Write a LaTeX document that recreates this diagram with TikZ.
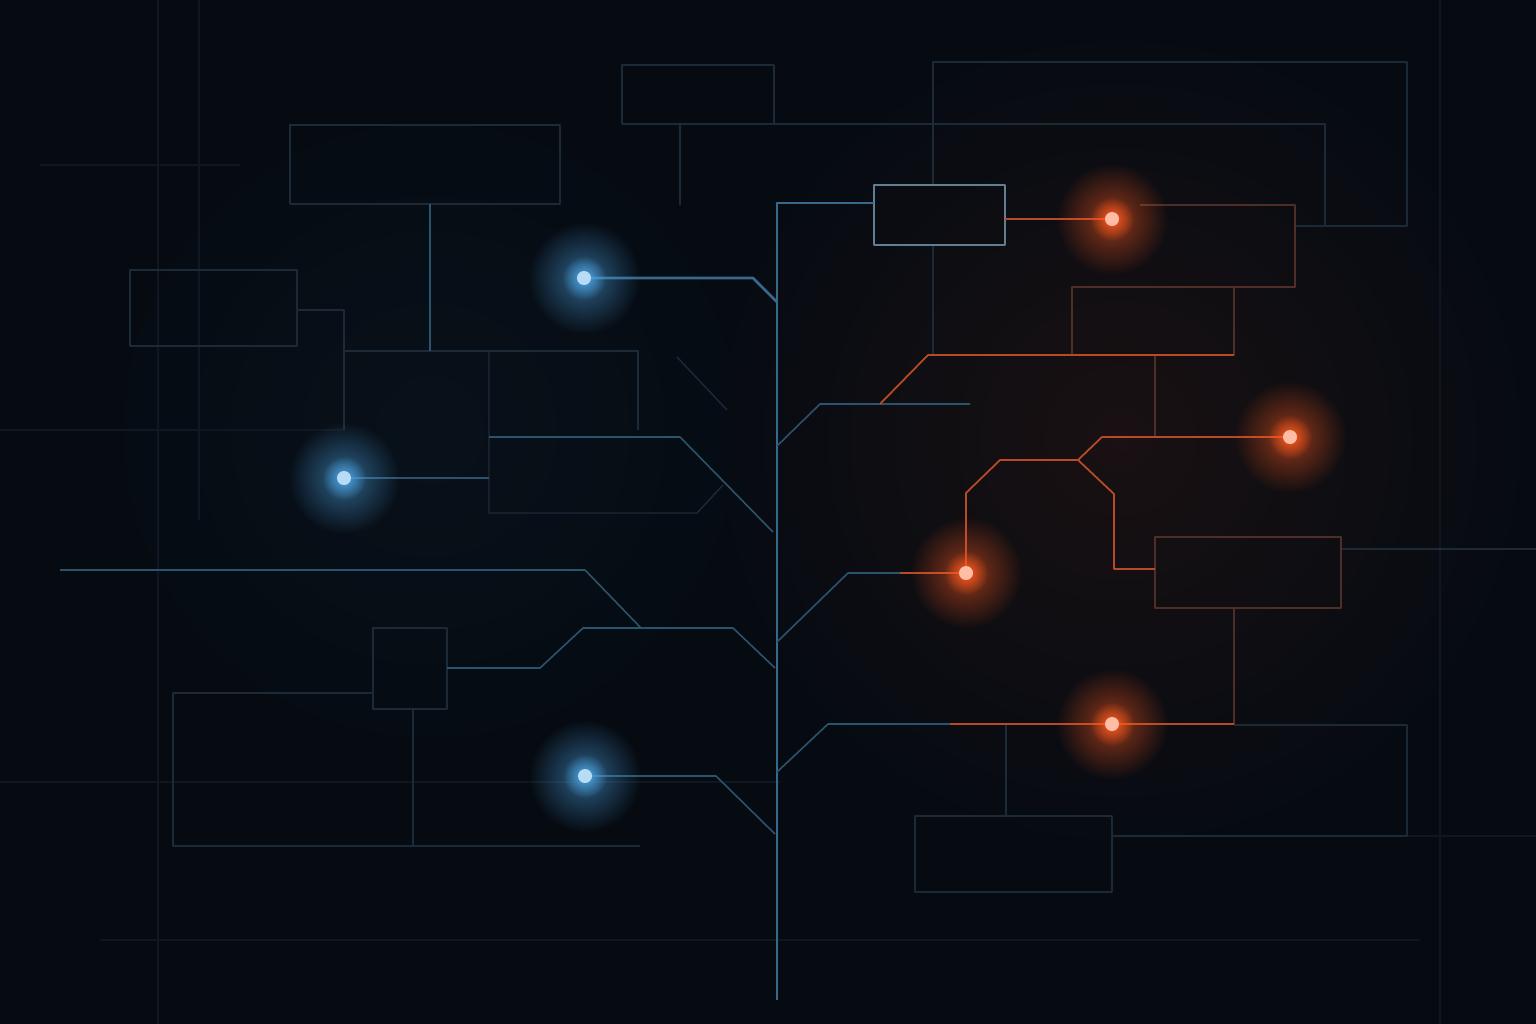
\documentclass[tikz,border=0pt]{standalone}
\usepackage{xcolor}
\definecolor{bgNavy}{HTML}{060B12}
\definecolor{colorBus}{HTML}{38688A}
\definecolor{colorWire}{HTML}{2C536E}
\definecolor{colorPanel}{HTML}{1C2A38}
\definecolor{colorGrid}{HTML}{0E1722}
\definecolor{colorHot}{HTML}{B84A28}
\definecolor{colorDim}{HTML}{4E2E26}
\definecolor{sparkBlue}{HTML}{4FA8E8}
\definecolor{sparkRed}{HTML}{FF5A1F}
\usepackage{tikz}
\usetikzlibrary{fadings}
\tikzfading[name=glowfade, inner color=transparent!0, outer color=transparent!100]
\tikzset{
  bus/.style={draw=colorBus, line width=0.8pt},
  bluewire/.style={draw=colorWire, line width=0.45pt},
  hotwire/.style={draw=colorHot, line width=0.5pt},
  dimwire/.style={draw=colorDim, line width=0.4pt},
  panel/.style={draw=colorPanel, line width=0.4pt},
  faint/.style={draw=colorGrid, line width=0.35pt},
  pics/spark/.style={code={
    \fill[#1, path fading=glowfade, opacity=0.55] (0,0) circle (56);
    \fill[#1, path fading=glowfade, opacity=0.95] (0,0) circle (22);
    \fill[#1!40!white] (0,0) circle (7);
  }},
}

\begin{document}
\begin{tikzpicture}[x=0.01cm, y=-0.01cm, line join=round]
\fill[bgNavy] (0,0) rectangle (1536,1024);
\useasboundingbox (0,0) rectangle (1536,1024);
\fill[sparkRed, opacity=0.08, path fading=glowfade] (1120,440) circle (430);
\fill[sparkBlue, opacity=0.04, path fading=glowfade] (430,430) circle (360);

\coordinate (b1) at (584,278);
\coordinate (b2) at (344,478);
\coordinate (b3) at (585,776);
\coordinate (r1) at (1112,219);
\coordinate (r2) at (1290,437);
\coordinate (r3) at (966,573);
\coordinate (r4) at (1112,724);
\coordinate (top) at (777,203);
\coordinate (root) at (777,1000);

\draw[faint] (158,0) -- (158,1024);
\draw[faint] (199,0) -- (199,520);
\draw[faint] (40,165) -- (240,165);
\draw[faint] (0,430) -- (345,430);
\draw[faint] (0,782) -- (780,782);
\draw[faint] (100,940) -- (1420,940);
\draw[faint] (1440,0) -- (1440,1024);
\draw[faint] (1407,836) -- (1536,836);

\draw[panel] (622,65) rectangle (774,124);
\draw[panel] (680,124) -- (680,205);
\draw[panel] (774,124) -- (1325,124) -- (1325,226);
\draw[panel] (933,185) -- (933,62) -- (1407,62) -- (1407,226) -- (1295,226);
\draw[panel] (290,125) rectangle (560,204);
\draw[panel] (130,270) rectangle (297,346);
\draw[panel] (297,310) -- (344,310) -- (344,430);
\draw[panel] (344,351) -- (638,351) -- (638,430);
\draw[panel] (489,351) -- (489,513) -- (697,513) -- (723,485);
\draw[panel] (677,357) -- (727,410);
\draw[panel] (373,628) rectangle (447,709);
\draw[panel] (373,693) -- (173,693) -- (173,846) -- (640,846);
\draw[panel] (413,709) -- (413,846);
\draw[panel] (933,245) -- (933,355);
\draw[panel] (1341,549) -- (1536,549);
\draw[panel] (915,816) rectangle (1112,892);
\draw[panel] (1006,724) -- (1006,816);
\draw[panel] (1112,836) -- (1407,836) -- (1407,725) -- (1234,725);
\draw[bluewire, draw=colorWire!75!white] (874,185) rectangle (1005,245);
\draw[bluewire] (430,204) -- (430,351);

\draw[bus] (874,203) -- (top) -- (root);
\draw[bus] (b1) -- (753,278) -- (777,302);
\draw[bluewire] (777,446) -- (820,404) -- (970,404);
\draw[bluewire] (b2) -- (489,478);
\draw[bluewire] (489,437) -- (680,437) -- (773,532);
\draw[bluewire] (60,570) -- (585,570) -- (641,628);
\draw[bluewire] (447,668) -- (540,668) -- (583,628) -- (733,628) -- (775,668);
\draw[bluewire] (b3) -- (716,776) -- (775,834);
\draw[bluewire] (777,642) -- (848,573) -- (900,573);
\draw[bluewire] (777,772) -- (828,724) -- (950,724);

\draw[dimwire] (1140,205) -- (1295,205) -- (1295,287) -- (1234,287);
\draw[dimwire] (1072,355) -- (1072,287) -- (1234,287) -- (1234,355);
\draw[dimwire] (1155,355) -- (1155,437);
\draw[dimwire] (1155,537) rectangle (1341,608);
\draw[dimwire] (1234,608) -- (1234,725);
\draw[hotwire] (1005,219) -- (r1);
\draw[hotwire] (880,404) -- (928,355) -- (1234,355);
\draw[hotwire] (r3) -- (966,493) -- (1000,460) -- (1078,460) -- (1102,437) -- (r2);
\draw[hotwire] (1078,460) -- (1114,494) -- (1114,569) -- (1155,569);
\draw[hotwire] (900,573) -- (r3);
\draw[hotwire] (950,724) -- (r4) -- (1234,724);

\pic at (b1) {spark=sparkBlue};
\pic at (b2) {spark=sparkBlue};
\pic at (b3) {spark=sparkBlue};
\pic at (r1) {spark=sparkRed};
\pic at (r2) {spark=sparkRed};
\pic at (r3) {spark=sparkRed};
\pic at (r4) {spark=sparkRed};
\end{tikzpicture}
\end{document}
